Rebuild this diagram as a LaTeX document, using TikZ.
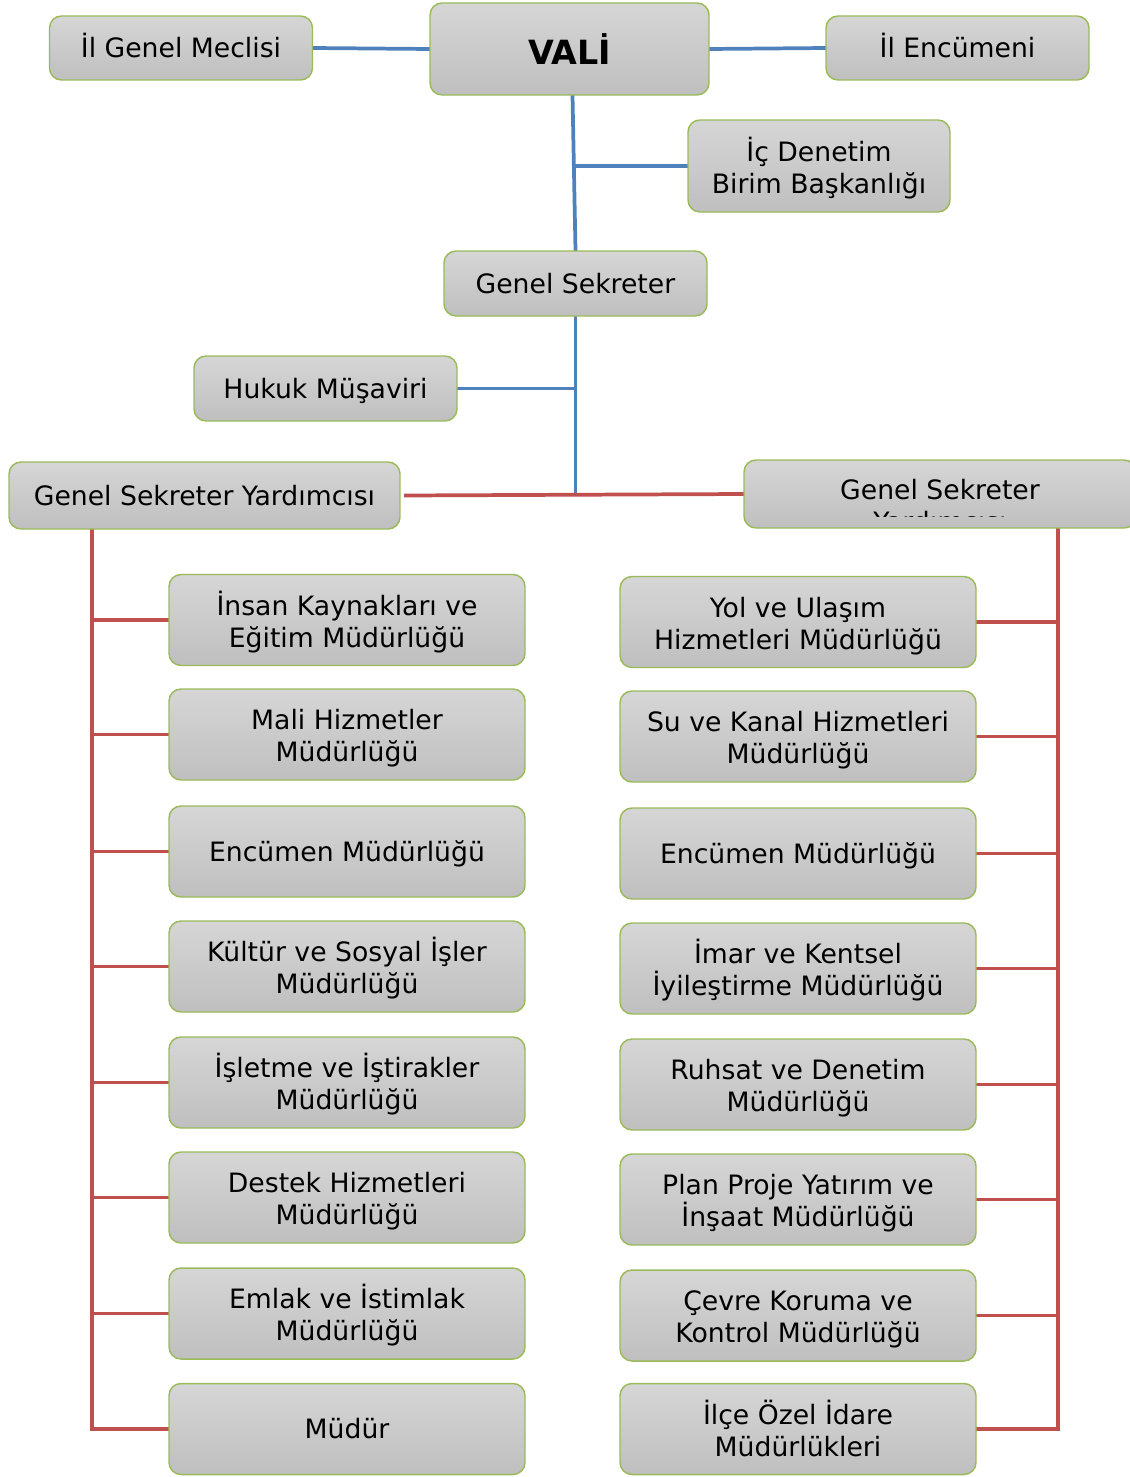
\documentclass[tikz,border=0pt]{standalone}
\usepackage{fontspec}
\setmainfont{DejaVu Sans}
\usetikzlibrary{backgrounds}
\definecolor{boxgreen}{HTML}{9BBB59}
\definecolor{lineblue}{HTML}{4F81BD}
\definecolor{linered}{HTML}{C0504D}
\definecolor{shtop}{HTML}{D6D6D6}
\definecolor{shbot}{HTML}{BFBFBF}
\newcommand{\multitop}{\rule{0pt}{21pt}}
\newcommand{\singletop}{\rule{0pt}{19pt}}
\newcommand{\linebot}{\rule[-4.2pt]{0pt}{4.2pt}}
\tikzset{
 orgbox/.style={rectangle, rounded corners=9pt, draw=boxgreen, line width=1.1pt,
   top color=shtop, bottom color=shbot, inner sep=0pt, outer sep=0pt,
   align=center, text=black, font=\fontsize{20}{24}\selectfont},
 unitbox/.style={orgbox, minimum width=267pt, minimum height=68.25pt},
 smallbox/.style={orgbox, minimum width=197.25pt, minimum height=48.75pt},
 plaintext/.style={inner sep=0pt, outer sep=0pt, text=black, font=\fontsize{20}{24}\selectfont},
 blueline/.style={draw=lineblue, line width=2.8pt},
 redline/.style={draw=linered, line width=2.8pt},
}
\begin{document}
\begin{tikzpicture}[x=0.75pt, y=-0.75pt]
\useasboundingbox (0,0) rectangle (1130,1477);

% top row
\node[smallbox, minimum height=48pt] (igm) at (181,48) {\singletop İl Genel Meclisi\linebot};
\node[orgbox, minimum width=209.25pt, minimum height=69pt, font=\bfseries\fontsize{25}{30}\selectfont] (vali) at (569.5,49) {VALİ};
\node[smallbox, minimum height=48pt] (ie) at (957.5,48) {\singletop İl Encümeni\linebot};

\node[orgbox, minimum width=196.5pt, minimum height=69pt] (icd) at (819,166) {\multitop İç Denetim\\Birim Başkanlığı\linebot};
\node[smallbox] (gs) at (575.5,283.5) {\singletop Genel Sekreter\linebot};
\node[smallbox] (hm) at (325.5,388.5) {\singletop Hukuk Müşaviri\linebot};

\node[orgbox, minimum width=293.25pt, minimum height=50.25pt] (gsy) at (204.5,495.5) {\singletop Genel Sekreter Yardımcısı\linebot};
\node[orgbox, minimum width=294pt, minimum height=51pt] (gsyr) at (940,494) {};
\begin{scope}
  \clip (744,460) rectangle (1136,516);
  \node[plaintext, anchor=base] (gsyra) at (940,499) {Genel Sekreter};
  \node[plaintext, anchor=base] (gsyrb) at (940,531) {Yardımcısı};
\end{scope}

% left column
\node[unitbox] (l1) at (347,620) {\multitop İnsan Kaynakları ve\\Eğitim Müdürlüğü\linebot};
\node[unitbox] (l2) at (347,734.5) {\multitop Mali Hizmetler\\Müdürlüğü\linebot};
\node[unitbox] (l3) at (347,851.5) {\singletop Encümen Müdürlüğü\linebot};
\node[unitbox] (l4) at (347,966.5) {\multitop Kültür ve Sosyal İşler\\Müdürlüğü\linebot};
\node[unitbox] (l5) at (347,1082.5) {\multitop İşletme ve İştirakler\\Müdürlüğü\linebot};
\node[unitbox] (l6) at (347,1197.5) {\multitop Destek Hizmetleri\\Müdürlüğü\linebot};
\node[unitbox] (l7) at (347,1313.5) {\multitop Emlak ve İstimlak\\Müdürlüğü\linebot};
\node[unitbox] (l8) at (347,1429) {\singletop Müdür\linebot};

% right column
\node[unitbox] (r1) at (798,622) {\multitop Yol ve Ulaşım\\Hizmetleri Müdürlüğü\linebot};
\node[unitbox] (r2) at (798,736.5) {\multitop Su ve Kanal Hizmetleri\\Müdürlüğü\linebot};
\node[unitbox] (r3) at (798,853.5) {\singletop Encümen Müdürlüğü\linebot};
\node[unitbox] (r4) at (798,968.5) {\multitop İmar ve Kentsel\\İyileştirme Müdürlüğü\linebot};
\node[unitbox] (r5) at (798,1084.5) {\multitop Ruhsat ve Denetim\\Müdürlüğü\linebot};
\node[unitbox] (r6) at (798,1199.5) {\multitop Plan Proje Yatırım ve\\İnşaat Müdürlüğü\linebot};
\node[unitbox] (r7) at (798,1315.5) {\multitop Çevre Koruma ve\\Kontrol Müdürlüğü\linebot};
\node[unitbox] (r8) at (798,1429) {\multitop İlçe Özel İdare\\Müdürlükleri\linebot};

\coordinate (ltrunk) at (92,529);
\coordinate (rtrunk) at (1058,528);

\begin{scope}[on background layer]
  \draw[blueline] (igm.east) -- (vali.west);
  \draw[blueline] (vali.east) -- (ie.west);
  \draw[blueline] ([xshift=2.25pt]vali.south) -- (gs.north);
  \draw[blueline] (icd.west) -- ([xshift=2.5pt]icd.west -| vali.south);
  \draw[blueline] (gs.south) -- (gs.south |- gsy.east);
  \draw[blueline] (hm.east) -- (hm.east -| gs.south);
  \draw[redline] ([xshift=3pt]gsy.east) -- (gsyr.west);
  \draw[redline] (ltrunk) |- (l8.west);
  \foreach \n in {l1,l2,l3,l4,l5,l6,l7}
    \draw[redline] (\n.west) -- (\n.west -| ltrunk);
  \draw[redline] (rtrunk) |- (r8.east);
  \foreach \n in {r1,r2,r3,r4,r5,r6,r7}
    \draw[redline] (\n.east) -- (\n.east -| rtrunk);
\end{scope}
\end{tikzpicture}
\end{document}
